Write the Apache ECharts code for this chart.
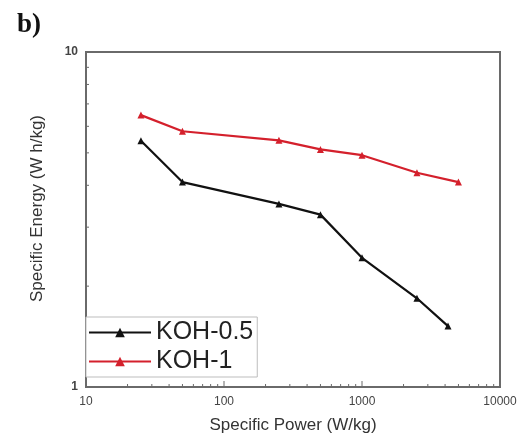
<!DOCTYPE html>
<html><head><meta charset="utf-8">
<script src="https://cdn.jsdelivr.net/npm/echarts@6/dist/echarts.min.js"></script>
<style>html,body{margin:0;padding:0;background:#fff}#c{width:517px;height:439px}</style>
</head><body><div id="c"></div>
<script>
const power05 = [25, 50, 250, 500, 1000, 2500, 4200];
const energy05 = [5.43, 4.09, 3.52, 3.27, 2.43, 1.84, 1.52];
const power1 = [25, 50, 250, 500, 1000, 2500, 5000];
const energy1 = [6.48, 5.80, 5.45, 5.12, 4.92, 4.36, 4.09];
const xMinor = [20,30,40,50,60,70,80,90,200,300,400,500,600,700,800,900,2000,3000,4000,5000,6000,7000,8000,9000];
const xMajorInner = [100, 1000];
const yMinor = [2,3,4,5,6,7,8,9];
const seriesNames = ['KOH-0.5', 'KOH-1'];

const chart = echarts.init(document.getElementById('c'));
const axisColor = '#6a6a6a';
function xTicks(vals, len) {
  return {
    type: 'custom', silent: true, z: 3,
    data: vals.map(v => [v]),
    renderItem: (params, api) => {
      const p = api.coord([api.value(0), 1]);
      return {type: 'line', shape: {x1: p[0], y1: p[1], x2: p[0], y2: p[1] - len},
        style: {stroke: axisColor, lineWidth: 1}};
    }
  };
}
function yTicks(vals, len) {
  return {
    type: 'custom', silent: true, z: 3,
    data: vals.map(v => [10, v]),
    renderItem: (params, api) => {
      const p = api.coord([10, api.value(1)]);
      return {type: 'line', shape: {x1: p[0], y1: p[1], x2: p[0] + len, y2: p[1]},
        style: {stroke: axisColor, lineWidth: 1}};
    }
  };
}
chart.setOption({
  animation: false,
  backgroundColor: '#fff',
  title: {text: 'b)', left: 12, top: 7,
    textStyle: {fontFamily: 'Liberation Serif', fontWeight: 'bold', fontSize: 27, color: '#111'}},
  grid: {left: 86, top: 52, right: 17, bottom: 52, outerBoundsMode: 'none', containLabel: false,
    show: true, borderColor: axisColor, borderWidth: 2, backgroundColor: 'transparent'},
  xAxis: {
    type: 'log', logBase: 10, min: 10, max: 10000,
    name: 'Specific Power (W/kg)', nameLocation: 'middle', nameGap: 30,
    nameTextStyle: {fontFamily: 'Liberation Sans', fontSize: 17, color: '#333'},
    axisLine: {show: true, lineStyle: {color: axisColor, width: 2}},
    axisTick: {show: false},
    splitLine: {show: false},
    axisLabel: {fontFamily: 'Liberation Sans', fontSize: 12, color: '#444', margin: 9,
      formatter: v => String(Math.round(v))}
  },
  yAxis: {
    type: 'log', logBase: 10, min: 1, max: 10,
    name: 'Specific Energy (W h/kg)', nameLocation: 'middle', nameGap: 40,
    nameTextStyle: {fontFamily: 'Liberation Sans', fontSize: 17, color: '#333', padding: [0, 0, 0, 22]},
    axisLine: {show: true, lineStyle: {color: axisColor, width: 2}},
    axisTick: {show: false},
    splitLine: {show: false},
    axisLabel: {fontFamily: 'Liberation Sans', fontSize: 12, color: '#444', margin: 8, fontWeight: 'bold',
      formatter: v => String(Math.round(v))}
  },
  legend: {
    data: seriesNames,
    orient: 'vertical', left: 86, top: 317,
    itemWidth: 62, itemHeight: 12, itemGap: 4,
    padding: [3, 4, 3, 2],
    borderColor: '#bdbdbd', borderWidth: 1, backgroundColor: '#fff',
    textStyle: {fontFamily: 'Liberation Sans', fontSize: 25, color: '#222'}
  },
  series: [
    {name: seriesNames[0], type: 'line', z: 5,
      data: power05.map((p, i) => [p, energy05[i]]),
      symbol: 'triangle', symbolSize: 7,
      lineStyle: {color: '#111', width: 2.2}, itemStyle: {color: '#111'}},
    {name: seriesNames[1], type: 'line', z: 5,
      data: power1.map((p, i) => [p, energy1[i]]),
      symbol: 'triangle', symbolSize: 7,
      lineStyle: {color: '#d4202c', width: 2.2}, itemStyle: {color: '#d4202c'}},
    xTicks(xMinor, 3),
    xTicks(xMajorInner, 6),
    yTicks(yMinor, 3)
  ]
});
</script></body></html>
